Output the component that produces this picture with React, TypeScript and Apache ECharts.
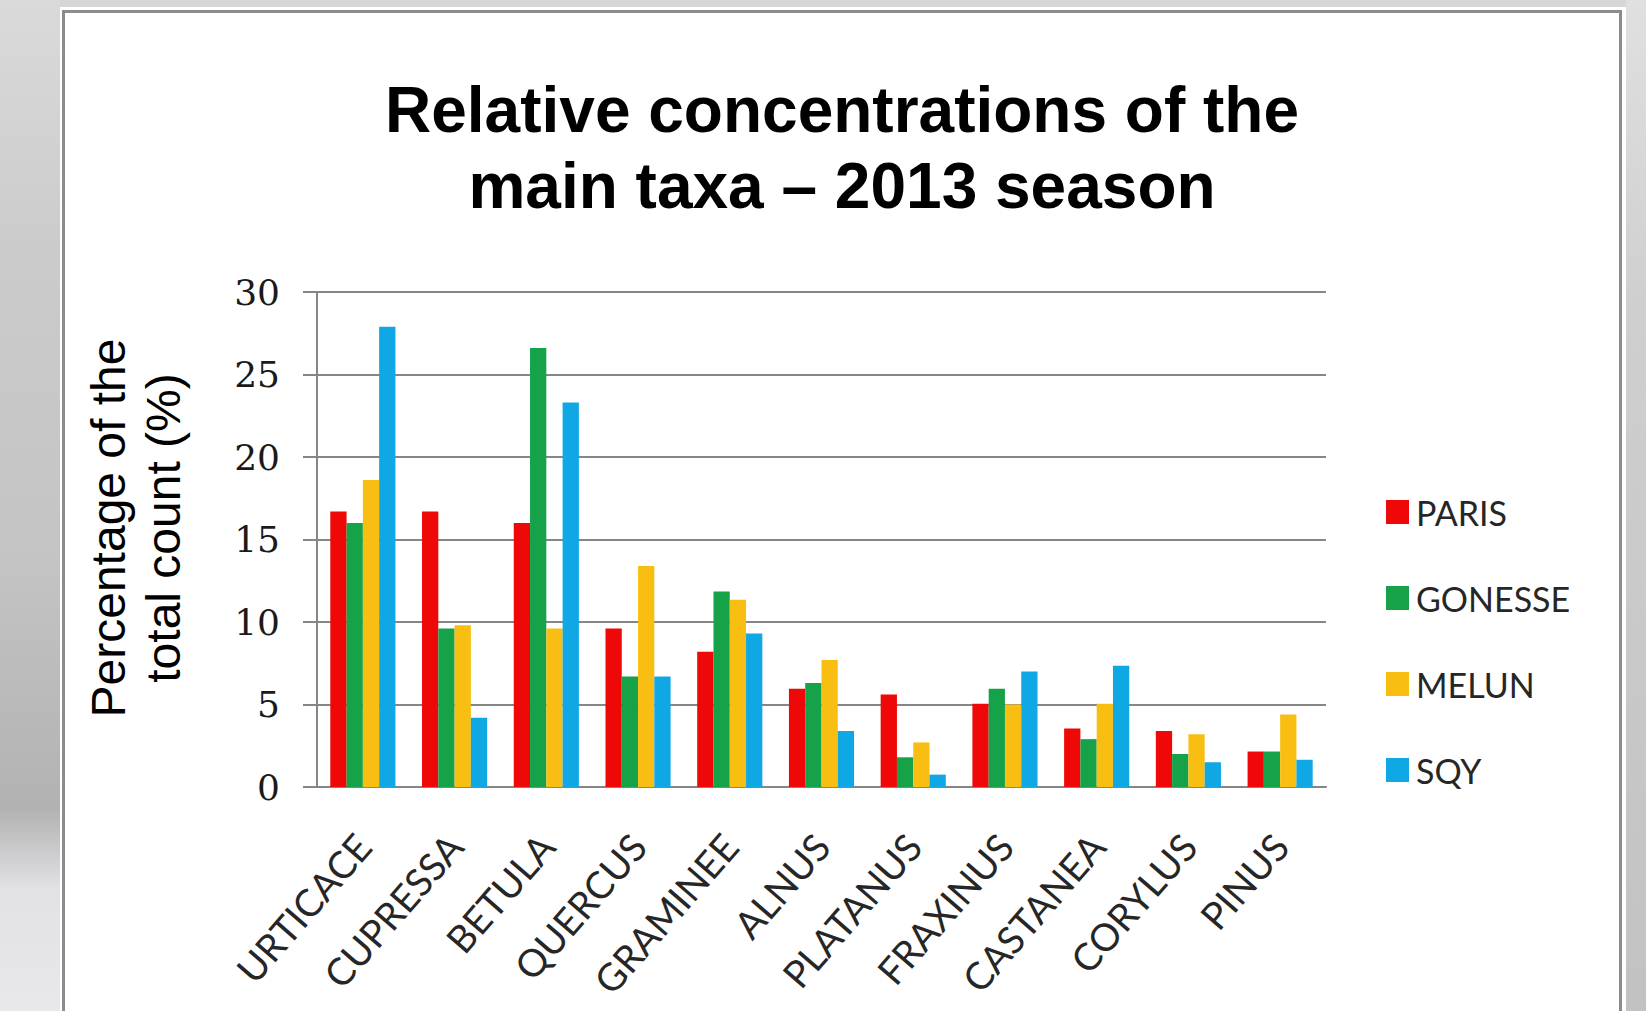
import React, { useEffect, useRef } from "react";
import * as echarts from "echarts";

const categories = [
  "URTICACE", "CUPRESSA", "BETULA", "QUERCUS", "GRAMINEE", "ALNUS",
  "PLATANUS", "FRAXINUS", "CASTANEA", "CORYLUS", "PINUS",
];
const seriesNames = ["PARIS", "GONESSE", "MELUN", "SQY"];
const paris = [16.7, 16.7, 16.0, 9.6, 8.2, 5.95, 5.6, 5.05, 3.55, 3.4, 2.15];
const gonesse = [16.0, 9.6, 26.6, 6.7, 11.85, 6.3, 1.8, 5.95, 2.9, 2.0, 2.15];
const melun = [18.6, 9.8, 9.6, 13.4, 11.35, 7.7, 2.7, 5.0, 5.05, 3.2, 4.4];
const sqy = [27.9, 4.2, 23.3, 6.7, 9.3, 3.4, 0.75, 7.0, 7.35, 1.5, 1.65];
const seriesColors = ["#ee0808", "#15a248", "#f8bf12", "#10a8e4"];
const yTicks = { min: 0, max: 30, interval: 5 };
const titleText = "Relative concentrations of the\nmain taxa \u2013 2013 season";
const yTitleText = "Percentage of the\ntotal count (%)";

const W = 1646;
const H = 1011;

export default function App() {
  const ref = useRef<HTMLDivElement>(null);

  useEffect(() => {
    if (!ref.current) return;
    const chart = echarts.init(ref.current, null, { renderer: "svg" });
    const values = [paris, gonesse, melun, sqy];
    chart.setOption({
      animation: false,
      title: {
        text: titleText,
        left: 842,
        top: 72,
        padding: 0,
        textAlign: "center",
        textStyle: {
          fontFamily: "Liberation Sans, Arial, sans-serif",
          fontSize: 64,
          fontWeight: "bold",
          color: "#000",
          lineHeight: 76,
        },
      },
      legend: {
        orient: "vertical",
        left: 1386,
        top: 495,
        padding: 0,
        icon: "rect",
        itemWidth: 23,
        itemHeight: 24,
        itemGap: 52,
        data: seriesNames,
        textStyle: {
          fontFamily: "Lato, sans-serif",
          fontSize: 34,
          lineHeight: 34,
          color: "#262626",
          padding: [0, 0, 0, 2],
        },
      },
      grid: {
        left: 317,
        right: W - 1326,
        top: 292,
        bottom: H - 787,
        containLabel: false,
      },
      xAxis: {
        type: "category",
        data: categories,
        axisLine: { show: true, lineStyle: { color: "#868686", width: 2 } },
        axisTick: { show: false },
        axisLabel: {
          interval: 0,
          rotate: 49,
          margin: 52,
          fontFamily: "Lato, sans-serif",
          fontSize: 38,
          color: "#262626",
        },
      },
      yAxis: {
        type: "value",
        min: yTicks.min,
        max: yTicks.max,
        interval: yTicks.interval,
        axisLine: { show: true, lineStyle: { color: "#868686", width: 2 } },
        axisTick: { show: true, length: 14, lineStyle: { color: "#868686", width: 2 } },
        splitLine: { show: true, lineStyle: { color: "#868686", width: 2 } },
        axisLabel: {
          margin: 37,
          fontFamily: "DejaVu Serif, serif",
          fontSize: 36,
          color: "#1a1a1a",
        },
      },
      graphic: [
        {
          type: "text",
          x: 136,
          y: 528,
          rotation: Math.PI / 2,
          style: {
            text: yTitleText,
            fontFamily: "Liberation Sans, Arial, sans-serif",
            fontSize: 48,
            lineHeight: 55,
            fill: "#000",
            textAlign: "center",
            textVerticalAlign: "middle",
          },
        },
      ],
      series: seriesNames.map((name, i) => ({
        name,
        type: "bar",
        data: values[i],
        barGap: "0%",
        barCategoryGap: "29%",
        itemStyle: { color: seriesColors[i] },
      })),
    });
    return () => chart.dispose();
  }, []);

  return (
    <div style={{ position: "absolute", left: 0, top: 0, width: W, height: H, overflow: "hidden", background: "#d6d6d6" }}>
      <div
        style={{
          position: "absolute", left: 0, top: 0, width: 60, height: H,
          background: "linear-gradient(to bottom, #dadada 0%, #cbcbcb 25%, #c4c4c4 55%, #b2b2b2 80%, #e2e2e6 88%, #e8e8ec 100%)",
        }}
      />
      <div
        style={{
          position: "absolute", left: 1626, top: 0, width: 20, height: H,
          background: "linear-gradient(to bottom, #e0e0e0 0%, #cfcfcf 30%, #c2c2c2 100%)",
        }}
      />
      <div style={{ position: "absolute", left: 60, top: 7, width: 1566, height: H, background: "#fff" }} />
      <div
        style={{
          position: "absolute", left: 62, top: 10, width: 1554, height: H,
          borderTop: "3px solid #8c8c8c", borderLeft: "3px solid #8c8c8c", borderRight: "3px solid #8c8c8c",
          background: "#fff",
        }}
      />
      <div ref={ref} style={{ position: "absolute", left: 0, top: 0, width: W, height: H }} />
    </div>
  );
}
